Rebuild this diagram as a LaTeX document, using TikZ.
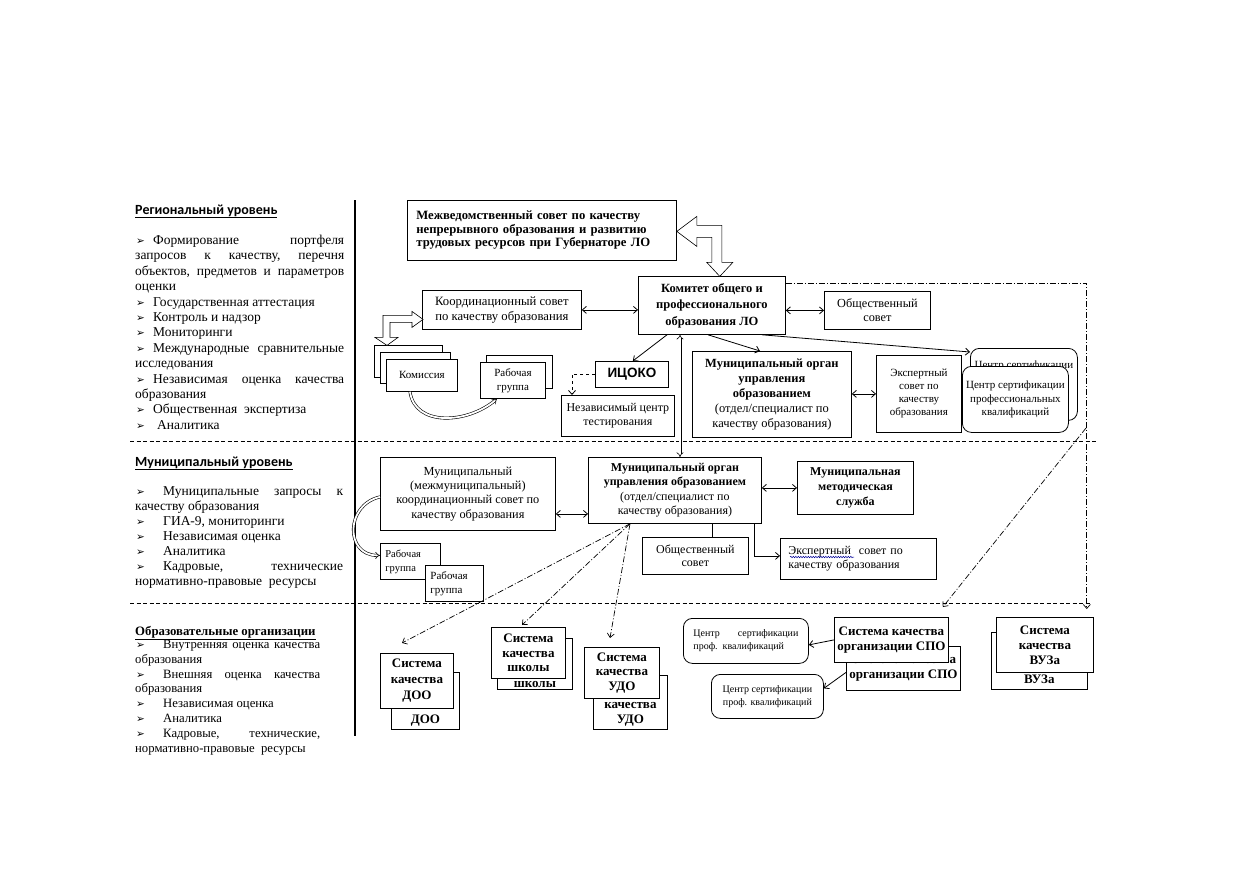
\documentclass[tikz,border=0pt]{standalone}
\usepackage{fontspec}
\setmainfont{Liberation Serif}
\newfontfamily\hsans{Carlito}
\newfontfamily\asans{Liberation Sans}
\newfontfamily\djs{DejaVu Sans}
\usetikzlibrary{arrows.meta,calc,decorations.pathmorphing}
\newcommand\fz[2]{\fontsize{#1}{#2}\selectfont}
\newcommand\bul{{\djs\fontsize{10.5}{10.5}\selectfont ➢}}
\newcommand\bi[1]{\makebox[#1][l]{\hspace{1pt}\bul}}
\newcommand\bpar[3]{\parbox[b][#1][b]{#2}{\centering #3}}
\begin{document}
\begin{tikzpicture}[x=1pt,y=-1pt,
  >={Straight Barb[length=4pt,width=7pt]},
  bx/.style={draw, line width=0.8pt, fill=white, inner sep=0pt, anchor=north west, align=center},
  rbx/.style={bx, rounded corners=9pt},
  conn/.style={line width=0.8pt},
  sep/.style={line width=0.7pt, dash pattern=on 4pt off 2.5pt},
  dd/.style={line width=0.7pt, dash pattern=on 6pt off 2pt on 1pt off 2pt},
  dbl/.style={double, double distance=1.8pt, line width=0.6pt},
  hol/.style={line width=0.6pt, fill=white}]
\fill[white] (0,0) rectangle (1239,872);
\useasboundingbox (0,0) rectangle (1239,872);

% ---------- left column ----------
\node[anchor=base west, inner sep=0pt, font=\hsans\bfseries\fz{14}{16}] (h1) at (135,214) {\underline{Региональный уровень}};
\node[anchor=north west, inner sep=0pt] (reg) at (135,235) {\begin{minipage}[t]{209pt}\fz{13.5}{15.4}\parindent0pt\hyphenpenalty10000\exhyphenpenalty10000\sloppy
\bi{18pt}Формирование~портфеля\linebreak запросов~к~качеству,~перечня\linebreak объектов,~предметов~и~параметров\linebreak оценки\par
\bi{18pt}Государственная аттестация\par
\bi{18pt}Контроль и надзор\par
\bi{18pt}Мониторинги\par
\bi{18pt}Международные~сравнительные\linebreak исследования\par
\bi{18pt}Независимая~оценка~качества\linebreak образования\par
\bi{18pt}Общественная\ \ экспертиза\par
\bi{22pt}Аналитика\par
\end{minipage}};

\node[anchor=base west, inner sep=0pt, font=\hsans\bfseries\fz{14}{16}] (h2) at (135,466) {\underline{Муниципальный уровень}};
\node[anchor=north west, inner sep=0pt] (mun) at (135,486) {\begin{minipage}[t]{208pt}\fz{13.5}{15.1}\parindent0pt\hyphenpenalty10000\exhyphenpenalty10000\sloppy
\bi{28pt}Муниципальные~запросы~к\linebreak качеству образования\par
\bi{28pt}ГИА-9, мониторинги\par
\bi{28pt}Независимая оценка\par
\bi{28pt}Аналитика\par
\bi{28pt}Кадровые,~технические\linebreak нормативно-правовые\ \ ресурсы\par
\end{minipage}};

\node[anchor=base west, inner sep=0pt, font=\bfseries\fz{12.8}{14}] (h3) at (135,635) {\underline{Образовательные организации}};
\node[anchor=north west, inner sep=0pt] (edu) at (135,640) {\begin{minipage}[t]{185pt}\fz{12.7}{14.8}\parindent0pt\hyphenpenalty10000\exhyphenpenalty10000\sloppy
\bi{28pt}Внутренняя~оценка~качества\linebreak образования\par
\bi{28pt}Внешняя~оценка~качества\linebreak образования\par
\bi{28pt}Независимая оценка\par
\bi{28pt}Аналитика\par
\bi{28pt}Кадровые,~технические,\linebreak нормативно-правовые\ \ ресурсы\par
\end{minipage}};

\draw[line width=2.6pt] (355,200) -- (355,736);
\draw[sep] (130,441) -- (1097,441);
\draw[sep] (130,603) -- (1090,603);

% ---------- regional level ----------
\node[bx, text width=251pt, inner xsep=9pt, align=left, minimum height=60pt, font=\bfseries\fz{12.7}{13.5}] (mezh) at (407,200) {Межведомственный совет по качеству\\непрерывного образования и развитию\\трудовых ресурсов при Губернаторе ЛО};
\node[bx, minimum width=147pt, minimum height=58pt, font=\bfseries\fz{12.5}{16.5}] (kom) at (638,276) {Комитет общего и\\профессионального\\образования ЛО};
\node[bx, minimum width=159pt, minimum height=39pt, font=\fz{12.7}{14.3}] (koord) at (422,290) {Координационный совет\\по качеству образования};
\node[bx, minimum width=106pt, minimum height=38pt, font=\fz{12.3}{14}] (obsh1) at (824,291) {Общественный\\совет};
\node[bx, minimum width=73pt, minimum height=26pt, font=\asans\bfseries\fz{13.5}{15}] (icoko) at (595,361) {ИЦОКО};
\node[bx, minimum width=159pt, minimum height=86pt, font=\fz{12.5}{15}] (munorg1) at (692,351) {\textbf{Муниципальный орган}\\\textbf{управления}\\\textbf{образованием}\\(отдел/специалист по\\качеству образования)};
\node[bx, minimum width=85pt, minimum height=77pt, font=\fz{11}{13}] (exp1) at (876,355) {Экспертный\\совет по\\качеству\\образования};
\node[rbx, inner xsep=3.5pt, inner ysep=12pt, font=\fz{11}{13.5}] (certb) at (970,348) {\parbox[t][48pt][t]{100pt}{\centering Центр сертификации}};
\node[rbx, minimum width=106pt, minimum height=66pt, font=\fz{11}{13.5}] (certf) at (962,366) {Центр сертификации\\профессиональных\\квалификаций};
\node[bx, minimum width=113pt, minimum height=41pt, font=\fz{12}{14.3}] (nezav) at (561,395) {Независимый центр\\тестирования};

\node[bx, minimum width=68pt, minimum height=32pt] (k1) at (374,345) {};
\node[bx, minimum width=70pt, minimum height=31pt] (k2) at (380,352) {};
\node[bx, minimum width=71pt, minimum height=32pt, font=\fz{11}{13}] (k3) at (386,359) {Комиссия};
\node[bx, minimum width=66pt, minimum height=33pt] (rab1b) at (486,355) {};
\node[bx, minimum width=65pt, minimum height=36pt, font=\fz{11}{14}] (rab1f) at (480,362) {Рабочая\\группа};

% regional connectors
\draw[conn,<->] (koord.east) -- (koord.east -| kom.west);
\draw[conn,<->] (kom.east |- obsh1.west) -- (obsh1.west);
\draw[conn,->] ([xshift=29pt]kom.south west) -- ([xshift=-36pt]icoko.north east);
\draw[conn,->] ([xshift=70pt]kom.south west) -- ([xshift=68pt]munorg1.north west);
\draw[conn,->] ([xshift=124pt]kom.south west) -- ([yshift=-4pt]certb.north west);
\draw[conn,<->] (munorg1.east |- exp1.west) -- (exp1.west);
\draw[conn,dashed,->] (icoko.west) -| ([xshift=11pt]nezav.north west);
\draw[dbl,-{Implies}] ([xshift=24pt]k3.south west) .. controls +(5,35) and +(-30,25) .. ([xshift=17pt]rab1f.south west);

% hollow block arrows
\draw[hol] ([yshift=-1pt]mezh.east) -- ++(20,-15) -- ++(0,9) -- ++(25,0) -- ++(0,37) -- ++(11,0) -- ++(-13,14) -- ++(-13,-14) -- ++(5,0) -- ++(0,-25) -- ++(-15,0) -- ++(0,9) -- cycle;
\draw[hol] ([xshift=1pt,yshift=-9.5pt]koord.west) -- ++(-11,-8) -- ++(0,4) -- ++(-29,0) -- ++(0,22) -- ++(-8,0) -- ++(12,8) -- ++(11,-8) -- ++(-8,0) -- ++(0,-15) -- ++(22,0) -- ++(0,5) -- cycle;

% ---------- municipal level ----------
\node[bx, minimum width=175pt, minimum height=73pt, font=\fz{12.3}{14.3}] (munkoord) at (380,457) {Муниципальный\\(межмуниципальный)\\координационный совет по\\качеству образования};
\node[bx, minimum width=173pt, minimum height=66pt, font=\fz{12}{14.5}] (munorg2) at (588,457) {\textbf{Муниципальный орган}\\\textbf{управления образованием}\\(отдел/специалист по\\качеству образования)};
\node[bx, minimum width=116pt, minimum height=53pt, font=\bfseries\fz{12}{15}] (metod) at (797,461) {Муниципальная\\методическая\\служба};
\node[bx, minimum width=106pt, minimum height=37pt, font=\fz{12}{13.5}] (obsh2) at (642,537) {Общественный\\совет};
\node[bx, text width=140pt, inner xsep=8pt, align=left, minimum height=41pt, font=\fz{12}{14}] (exp2) at (780,538) {Экспертный\ \ совет по\\качеству образования};
\draw[blue!60!black, line width=0.5pt, decorate, decoration={snake, amplitude=0.7pt, segment length=2.5pt}] ([xshift=10pt,yshift=-19pt]exp2.north west) -- ++(64,0);
\node[bx, text width=50pt, inner xsep=5pt, align=left, minimum height=36pt, font=\fz{10.5}{14}] (rab2a) at (380,543) {Рабочая\\группа};
\node[bx, text width=48pt, inner xsep=5pt, align=left, minimum height=36pt, font=\fz{11}{14}] (rab2b) at (425,565) {Рабочая\\группа};

\draw[dbl,{Implies}-{Implies}] ([xshift=42pt]kom.south west) -- ([xshift=92pt]munorg2.north west);
\draw[conn,<->] ([yshift=-20pt]munkoord.east) -- ([yshift=-20pt]munkoord.east -| munorg2.west);
\draw[conn,<->] (munorg2.east |- metod.west) -- (metod.west);
\coordinate (m2o) at ([xshift=124pt]munorg2.south west);
\draw[conn] (m2o) -- (m2o |- obsh2.north);
\coordinate (m2e) at ([xshift=166pt]munorg2.south west);
\draw[conn,->] (m2e) |- ([yshift=3pt]exp2.west);
\draw[dbl,-{Implies}] ([yshift=-3pt]munkoord.west) .. controls +(-35,8) and +(-35,0) .. ([yshift=6pt]rab2a.west);

% ---------- educational organisations ----------
\node[bx, inner xsep=2pt, inner ysep=2.5pt, font=\bfseries\fz{13}{16}] (doob) at (391,672) {\bpar{49pt}{64pt}{ДОО}};
\node[bx, minimum width=73pt, minimum height=55pt, font=\bfseries\fz{13}{16}] (doof) at (380,653) {Система\\качества\\ДОО};
\node[bx, inner xsep=2pt, inner ysep=2pt, font=\bfseries\fz{13}{14.5}] (schb) at (497,638) {\bpar{47pt}{71pt}{школы}};
\node[bx, minimum width=74pt, minimum height=51pt, font=\bfseries\fz{13}{14.5}] (schf) at (491,627) {Система\\качества\\школы};
\node[bx, inner xsep=2pt, inner ysep=2.5pt, font=\bfseries\fz{13}{15}] (udob) at (593,675) {\bpar{46pt}{70pt}{качества\\УДО}};
\node[bx, minimum width=75pt, minimum height=51pt, font=\bfseries\fz{13}{14.5}] (udof) at (584,647) {Система\\качества\\УДО};
\node[bx, minimum width=114pt, minimum height=44pt, font=\bfseries\fz{13}{15}] (spob) at (846,646) {Система качества\\организации СПО};
\node[bx, minimum width=114pt, minimum height=45pt, font=\bfseries\fz{13}{15}] (spof) at (834,617) {Система качества\\организации СПО};
\node[bx, inner xsep=2pt, inner ysep=6pt, font=\bfseries\fz{13}{15}] (vuzb) at (991,632) {\bpar{45pt}{92pt}{ВУЗа}};
\node[bx, minimum width=97pt, minimum height=55pt, font=\bfseries\fz{13}{15}] (vuzf) at (996,617) {Система\\качества\\ВУЗа};
\node[rbx, text width=105pt, inner xsep=10pt, align=left, minimum height=45pt, font=\fz{10}{13}] (certA) at (683,618) {Центр\hfill сертификации\\проф. квалификаций};
\node[rbx, minimum width=112pt, minimum height=44pt, font=\fz{10}{13}] (certB) at (711,674) {Центр сертификации\\проф. квалификаций};

\coordinate (m2d) at ([xshift=42pt]munorg2.south west);
\draw[dd,->] (m2d) -- ([xshift=22pt,yshift=10pt]doof.north west);
\draw[dd,->] (m2d) -- ([xshift=31pt,yshift=2pt]schf.north west);
\draw[dd,->] (m2d) -- ([xshift=26pt,yshift=9pt]udof.north west);
\coordinate (kf) at ([yshift=-7pt]kom.north east);
\draw[dd,->] (kf) -| ([xshift=-7pt,yshift=8pt]vuzf.north east);
\coordinate (dg) at (1086,428);
\draw[dd,->] (dg) -- ([xshift=-6pt,yshift=10pt]spof.north east);
\draw[conn,->] (spof.west) -- ([yshift=-4pt]certA.east);
\draw[conn,->] ([yshift=-4pt]spob.west) -- ([yshift=8pt]certB.east);
\end{tikzpicture}
\end{document}
